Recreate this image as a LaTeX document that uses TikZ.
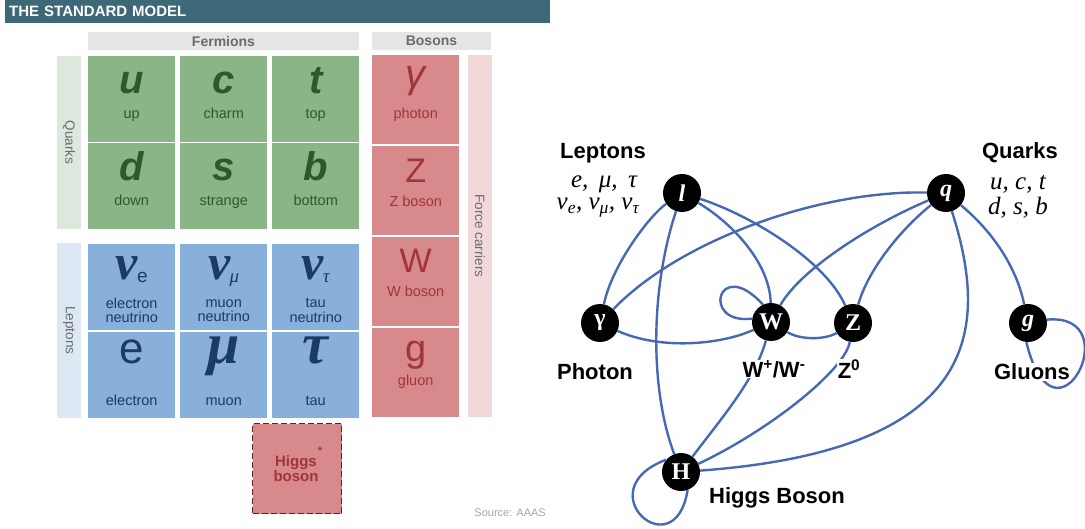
\documentclass[tikz,border=0pt]{standalone}
\usepackage{fontspec}
\setmainfont{Liberation Serif}
\setsansfont{Liberation Sans}
\usepackage{tikz}
\definecolor{TitleTeal}{HTML}{3C6878}
\definecolor{HeadGray}{HTML}{E4E5E5}
\definecolor{HeadText}{HTML}{6B6B6B}
\definecolor{QuarkCell}{HTML}{8AB586}
\definecolor{QuarkText}{HTML}{2C5A2E}
\definecolor{QuarkBar}{HTML}{DEE7DE}
\definecolor{LeptonCell}{HTML}{89B0DB}
\definecolor{LeptonText}{HTML}{1B3A66}
\definecolor{LeptonBar}{HTML}{DCE8F4}
\definecolor{BosonCell}{HTML}{D8898C}
\definecolor{BosonText}{HTML}{A0353A}
\definecolor{BosonBar}{HTML}{F1D9DA}
\definecolor{HiggsEdge}{HTML}{6B1E22}
\definecolor{SourceGray}{HTML}{A5A5A5}
\definecolor{LinkBlue}{HTML}{4668B5}
\newcommand{\fsz}[1]{\fontsize{#1}{#1}\selectfont}
\newcommand{\nusub}[1]{ν\kern-1pt\raisebox{-2.5pt}{\fsz{19}#1}}
\tikzset{
  celq/.style      = {fill=QuarkCell, minimum width=87pt, minimum height=86pt,
                      inner sep=0pt, anchor=north west},
  celv/.style      = {fill=LeptonCell, minimum width=87pt, minimum height=86pt,
                      inner sep=0pt, anchor=north west},
  celb/.style      = {fill=BosonCell, minimum width=87pt, minimum height=89pt,
                      inner sep=0pt, anchor=north west},
  symb/.style      = {anchor=base, inner sep=0pt},
  symq/.style      = {symb, text=QuarkText, font=\sffamily\bfseries\itshape\fsz{40}},
  symv/.style      = {symb, text=LeptonText},
  symz/.style      = {symb, text=BosonText, font=\sffamily\fsz{34}},
  nomb/.style      = {anchor=base, inner sep=0pt, align=center, font=\sffamily\fsz{14.5}},
  barra/.style     = {minimum height=24pt, inner sep=0pt, rotate=-90,
                      text=HeadText, font=\sffamily\fsz{13.5}},
  cabecera/.style  = {fill=HeadGray, minimum height=18pt, inner sep=0pt,
                      text=HeadText, font=\sffamily\bfseries\fsz{14}},
  particula/.style = {circle, fill=black, minimum size=38pt, inner sep=0pt,
                      text=white, font=\rmfamily\bfseries\fsz{24}},
  enlace/.style    = {draw=LinkBlue, line width=2.4pt},
  lbl/.style       = {font=\sffamily\bfseries\fsz{22}, inner sep=1pt},
  nota/.style      = {font=\rmfamily\itshape\fsz{25}, inner sep=0pt},
}

\begin{document}
\begin{tikzpicture}[x=1pt, y=-1pt]
  \useasboundingbox (0,0) rectangle (1085,529);
  % table
  \node[fill=TitleTeal, anchor=north west, minimum height=23pt, text width=537pt,
        inner xsep=4pt, inner ysep=0pt, text=white, font=\sffamily\bfseries\fsz{15}]
        (titulo) at (5,0) {THE STANDARD MODEL};
  \node[cabecera, minimum width=271pt] (ferm) at (223.5,41) {Fermions};
  \node[cabecera, minimum width=119pt] (bos)  at (431.5,41) {Bosons};
  \node[barra, fill=QuarkBar,  minimum width=173pt] (qbar) at (69,142.5) {Quarks};
  \node[barra, fill=LeptonBar, minimum width=175pt] (lbar) at (69,330.5) {Leptons};
  \node[barra, fill=BosonBar,  minimum width=362pt] (fbar) at (480,236)  {Force carriers};
  \foreach \nm/\x/\y/\sym/\lab in {cu/88/56/u/up, cc/180/56/c/charm, ct/272/56/t/top,
      cd/88/143/d/down, cs/180/143/s/strange, cb/272/143/b/bottom}{
    \node[celq] (\nm) at (\x,\y) {};
    \node[symq] (\nm-s) at ([yshift=-38pt]\nm.north) {\sym};
    \node[nomb, text=QuarkText] (\nm-n) at ([yshift=-63pt]\nm.north) {\lab};
  }
  \foreach \nm/\x/\sym/\lab in {
      cve/88/{\nusub{\sffamily\mdseries\upshape e}}/electron\\neutrino,
      cvm/180/{\nusub{\mdseries μ}}/muon\\neutrino,
      cvt/272/{\nusub{\mdseries τ}}/tau\\neutrino}{
    \node[celv] (\nm) at (\x,244) {};
    \node[symv, font=\rmfamily\bfseries\itshape\fsz{50}] (\nm-s) at ([yshift=-36pt]\nm.north) {\sym};
    \node[nomb, anchor=center, text=LeptonText] (\nm-n) at ([yshift=-66.5pt]\nm.north) {\lab};
  }
  \foreach \nm/\x/\sym/\lab in {ce/88/{\sffamily\fsz{44}e}/electron,
      cmu/180/{\rmfamily\bfseries\itshape\fsz{58}μ}/muon,
      ctau/272/{\rmfamily\bfseries\itshape\fsz{58}τ}/tau}{
    \node[celv] (\nm) at (\x,332) {};
    \node[symv] (\nm-s) at ([yshift=-32pt]\nm.north) {\sym};
    \node[nomb, text=LeptonText] (\nm-n) at ([yshift=-74pt]\nm.north) {\lab};
  }
  \foreach \nm/\y/\sym/\lab/\so/\no in {cga/55/{\itshape\fsz{40}γ}/photon/33/64,
      cz/146/Z/Z boson/37/61, cw/237/W/W boson/36/60, cg/328/{\fsz{38}g}/gluon/34/57}{
    \node[celb] (\nm) at (372,\y) {};
    \node[symz] (\nm-s) at ([yshift=-\so pt]\nm.north) {\sym};
    \node[nomb, text=BosonText] (\nm-n) at ([yshift=-\no pt]\nm.north) {\lab};
  }
  \node[celb, draw=HiggsEdge, line width=1.3pt, dash pattern=on 6pt off 3pt,
        minimum width=89pt, minimum height=90pt] (chiggs) at (252,423) {};
  \node[align=center, inner sep=0pt, text=BosonText, font=\sffamily\bfseries\fsz{15}]
        (higgstxt) at (296,469) {Higgs\\boson};
  \node[inner sep=0pt, text=BosonText, font=\sffamily\bfseries\fsz{11}] (ast) at (320,451) {*};
  \node[anchor=east, inner sep=0pt, text=SourceGray, font=\sffamily\fsz{11}]
        (fuente) at (546,513) {Source: AAAS};

  % interaction graph
  \node[particula] (l)  at (682,193)  {\itshape l};
  \node[particula] (q)  at (946,193)  {\itshape q};
  \node[particula] (ga) at (600,323)  {γ};
  \node[particula] (W)  at (771,322)  {W};
  \node[particula] (Z)  at (853,323)  {Z};
  \node[particula] (g)  at (1028,323) {\itshape g};
  \node[particula] (H)  at (681,472)  {H};
  \draw[enlace] (l) .. controls (650,215) and (612,265) .. (ga);
  \draw[enlace] (l) .. controls (650,290) and (650,390) .. (H);
  \draw[enlace] (l) .. controls (735,225) and (770,265) .. (W);
  \draw[enlace] (l) .. controls (750,215) and (825,260) .. (Z);
  \draw[enlace] (q) .. controls (820,190) and (680,240) .. (ga);
  \draw[enlace] (q) .. controls (870,225) and (800,270) .. (W);
  \draw[enlace] (q) .. controls (900,230) and (868,270) .. (Z);
  \draw[enlace] (q) .. controls (990,330) and (980,450) .. (H);
  \draw[enlace] (q) .. controls (985,225) and (1015,260) .. (g);
  \draw[enlace] (ga) .. controls (660,350) and (720,345) .. (W);
  \draw[enlace] (W) .. controls (800,340) and (825,340) .. (Z);
  \draw[enlace] (W) .. controls (755,380) and (720,420) .. (H);
  \draw[enlace] (Z) .. controls (845,370) and (770,430) .. (H);
  \draw[enlace] (W.170) .. controls (700,325) and (718,255) .. (W.115);
  \draw[enlace] (g.10) .. controls (1130,312) and (1055,460) .. (g.-95);
  \draw[enlace] (H.140) .. controls (585,490) and (675,570) .. (H.-70);
  \node[lbl] (leplbl) at (603,153) {Leptons};
  \node[nota] (lep1) at (604,184) {e,\, μ,\, τ};
  \node[nota] (lep2) at (598,208) {ν\textsubscript{e}, ν\textsubscript{μ}, ν\textsubscript{τ}};
  \node[lbl] (qlbl) at (1020,153) {Quarks};
  \node[nota] (q1) at (1018,184) {u, c, t};
  \node[nota] (q2) at (1018,208) {d, s, b};
  \node[lbl] (galbl) at (595,372) {Photon};
  \node[lbl, fill=white] (Wlbl) at (774,369) {W\textsuperscript{+}/W\textsuperscript{-}};
  \node[lbl, fill=white] (Zlbl) at (849,369) {Z\textsuperscript{0}};
  \node[lbl, fill=white] (glbl) at (1032,372) {Gluons};
  \node[lbl] (Hlbl) at (777,498) {Higgs Boson};
\end{tikzpicture}
\end{document}
